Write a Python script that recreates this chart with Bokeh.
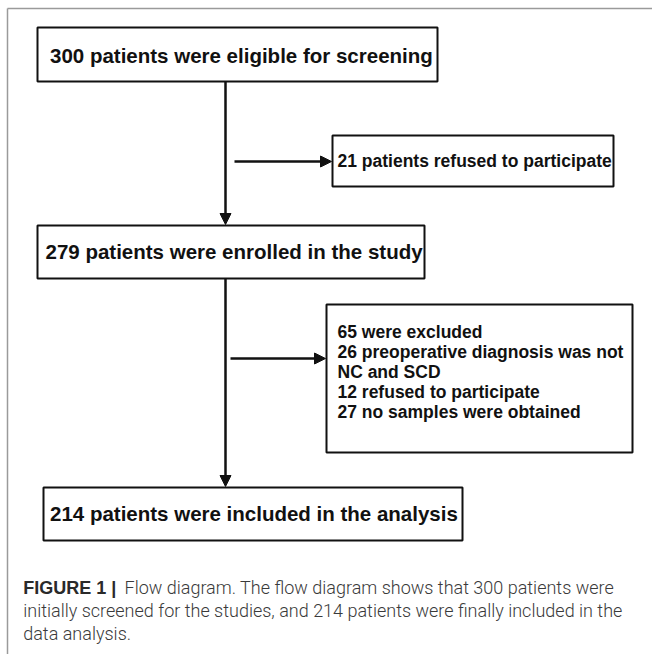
from bokeh.plotting import figure
from bokeh.models import Range1d, Arrow, NormalHead
from bokeh.core.properties import value
from bokeh.embed import file_html
from bokeh.resources import INLINE

# ---- content ----
main_steps = [
    "300 patients were eligible for screening",
    "279 patients were enrolled in the study",
    "214 patients were included in the analysis",
]
side_step1 = ["21 patients refused to participate"]
side_step2 = [
    "65 were excluded",
    "26 preoperative diagnosis was not",
    "NC and SCD",
    "12 refused to participate",
    "27 no samples were obtained",
]
caption_bold = "FIGURE 1 |"
caption_lines = [
    "Flow diagram. The flow diagram shows that 300 patients were",
    "initially screened for the studies, and 214 patients were finally included in the",
    "data analysis.",
]

# ---- layout (reference pixel coordinates) ----
main_left = [37, 37, 43]
main_right = [437, 424, 462]
main_top = [27, 225, 487]
main_bottom = [81, 278, 540]
main_text_x = [49.5, 45, 49.5]
main_text_y = [55, 251, 513]

side_left = [332, 326]
side_right = [613, 632]
side_top = [135, 304]
side_bottom = [186, 452]

BIG = "20.5px"
SMALL = "17.5px"
INK = "#111111"

p = figure(width=652, height=654, x_range=Range1d(0, 652), y_range=Range1d(654, 0),
           output_backend="svg", toolbar_location=None, min_border=0,
           x_axis_location=None, y_axis_location=None, tools="")
p.grid.visible = False
p.outline_line_color = None
p.background_fill_color = "white"
p.border_fill_color = "white"

# outer frame (top and left rules)
p.segment(x0=[7, 7], y0=[8, 8], x1=[652, 7], y1=[8, 654],
          line_color="#9a9a9a", line_width=1.5)

# boxes
p.quad(left=main_left + side_left, right=main_right + side_right,
       top=main_top + side_top, bottom=main_bottom + side_bottom,
       fill_color="white", line_color=INK, line_width=2)

# arrows
arrows = [
    (225, 81, 225, 224),
    (225, 278, 225, 486),
    (234, 161, 331, 161),
    (230, 358, 325, 358),
]
for x0, y0, x1, y1 in arrows:
    p.add_layout(Arrow(end=NormalHead(size=11, fill_color=INK, line_color=INK),
                       x_start=x0, y_start=y0, x_end=x1, y_end=y1,
                       line_color=INK, line_width=2.5))

# main box texts
p.text(x=main_text_x, y=main_text_y, text=main_steps,
       text_font=value("Liberation Sans"), text_font_style="bold", text_font_size=BIG,
       text_color=INK, text_baseline="middle", text_align="left")

# side box texts
p.text(x=[337], y=[160.5], text=side_step1,
       text_font=value("Liberation Sans"), text_font_style="bold", text_font_size=SMALL,
       text_color=INK, text_baseline="middle", text_align="left")
p.text(x=[337] * len(side_step2), y=[331, 351, 371, 391, 411], text=side_step2,
       text_font=value("Liberation Sans"), text_font_style="bold", text_font_size=SMALL,
       text_color=INK, text_baseline="middle", text_align="left")

# caption
p.text(x=[22.7], y=[587], text=[caption_bold],
       text_font=value("Liberation Sans"), text_font_style="bold", text_font_size="18px",
       text_color="#2a2a2a", text_baseline="middle", text_align="left")
p.text(x=[124, 22.7, 22.7], y=[587, 610, 633], text=caption_lines,
       text_font=value("Roboto Light"), text_font_size="18px",
       text_color="#3a3a3a", text_baseline="middle", text_align="left")

open("out.html", "w").write(file_html(p, INLINE))
